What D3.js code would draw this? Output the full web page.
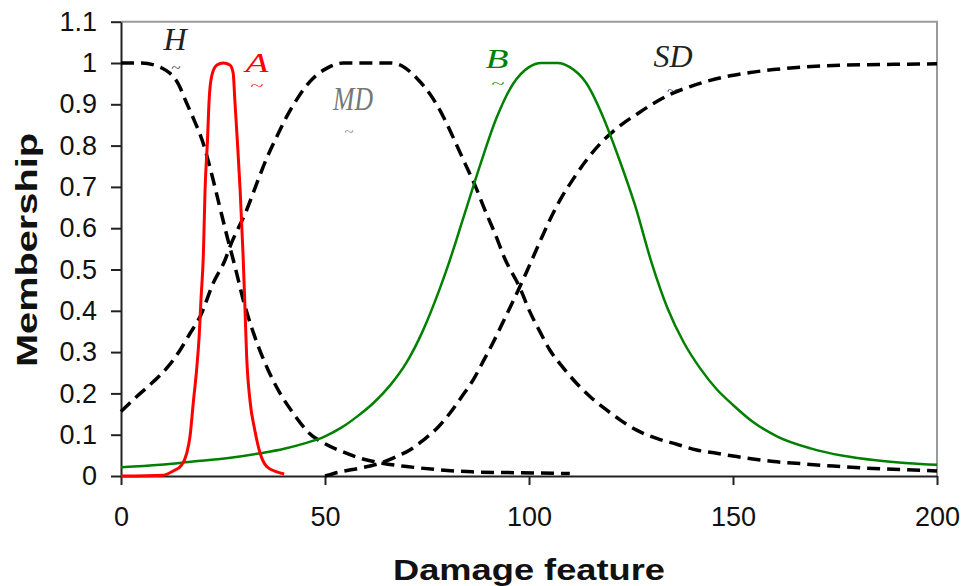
<!DOCTYPE html>
<html>
<head>
<meta charset="utf-8">
<script src="https://cdn.jsdelivr.net/npm/d3@7"></script>
<style>
  body { margin: 0; background: #fff; }
  .tick text { font-family: "Liberation Sans", Arial, sans-serif; }
</style>
</head>
<body>
<div id="membership-chart"></div>
<script>
// data: [damage feature, membership]
const hPoints = [[0,1],[5,1],[10,0.988],[12,0.975],[14,0.95],[16,0.905],[18,0.86],[20,0.81],[22,0.74],[24,0.66],[26,0.58],[28,0.505],[30,0.425],[32,0.36],[34,0.305],[36,0.258],[39,0.2],[42,0.155],[46,0.105],[50,0.078],[54,0.06],[58,0.045],[64,0.031],[70,0.023],[78,0.015],[86,0.01],[97,0.008],[110,0.006]];
const aPoints = [[0,0],[10.4,0.002],[12.8,0.012],[14.9,0.027],[16.1,0.055],[16.9,0.095],[17.7,0.176],[18.6,0.265],[19.2,0.345],[19.6,0.426],[20.2,0.54],[20.6,0.692],[21.2,0.814],[21.6,0.91],[22.2,0.967],[23.5,0.995],[25.1,1],[26.7,0.995],[27.5,0.975],[27.9,0.91],[28.5,0.814],[29.2,0.692],[29.9,0.54],[30.4,0.402],[30.8,0.289],[31.6,0.184],[32.8,0.111],[34.1,0.055],[35.7,0.023],[38.2,0.01],[40,0.005]];
const mdPoints = [[0,0.156],[3.8,0.192],[7.9,0.228],[11.2,0.261],[14.5,0.305],[16.9,0.345],[19.4,0.386],[22.6,0.467],[25.5,0.523],[26.7,0.555],[30.8,0.644],[33.3,0.709],[35.7,0.769],[38.2,0.822],[40.6,0.87],[43.5,0.918],[46.3,0.955],[50.4,0.987],[54.5,1],[66,1],[69.2,0.991],[72.5,0.963],[76.2,0.918],[79,0.87],[81.5,0.818],[84.3,0.757],[86.8,0.703],[89.2,0.644],[91.7,0.586],[94,0.528],[97.8,0.455],[100.2,0.398],[102.7,0.349],[105.1,0.305],[108.4,0.262],[111.7,0.224],[115,0.192],[119,0.16],[122.3,0.136],[126.4,0.111],[131.3,0.091],[136.2,0.077],[141.1,0.063],[146,0.055],[150.9,0.047],[155.8,0.04],[160,0.035],[166.4,0.03],[174.6,0.024],[182.8,0.019],[190.9,0.016],[200,0.012]];
const bPoints = [[0,0.021],[9.6,0.027],[17.7,0.035],[25.9,0.043],[34.1,0.055],[40,0.066],[45,0.079],[50,0.096],[54,0.117],[58,0.145],[62,0.178],[66,0.22],[70,0.275],[74,0.352],[78,0.45],[80,0.505],[84,0.628],[88,0.752],[92,0.866],[96,0.948],[100,0.99],[103,1],[107,1],[110,0.99],[114,0.952],[118,0.873],[122,0.77],[126,0.655],[130,0.518],[134,0.405],[138,0.322],[142,0.26],[146,0.21],[150,0.172],[155,0.13],[161,0.095],[169,0.067],[177,0.049],[185,0.038],[193,0.031],[200,0.027]];
const sdPoints = [[50,0],[53.7,0.01],[58.6,0.019],[63.5,0.031],[68.4,0.051],[70.8,0.063],[74.1,0.087],[77.4,0.115],[80.6,0.152],[83.5,0.192],[86.4,0.234],[88.8,0.278],[91.3,0.325],[93.7,0.374],[96.6,0.434],[99.4,0.494],[102.7,0.568],[105.1,0.62],[107.6,0.668],[110.9,0.72],[114.1,0.765],[117.4,0.804],[120.7,0.835],[123.1,0.854],[126.4,0.876],[130.5,0.902],[134.6,0.924],[139.5,0.943],[144.4,0.958],[149.3,0.969],[154.2,0.977],[159.9,0.984],[166.4,0.99],[174.6,0.994],[182.8,0.996],[190.9,0.997],[200,0.998]];

const xTicks = [0, 50, 100, 150, 200];
const yTicks = [0, 0.1, 0.2, 0.3, 0.4, 0.5, 0.6, 0.7, 0.8, 0.9, 1, 1.1];
const yTickLabels = ["0", "0.1", "0.2", "0.3", "0.4", "0.5", "0.6", "0.7", "0.8", "0.9", "1", "1.1"];

// Set the dimensions and margins of the graph
const margin = { top: 21.7, right: 30, bottom: 110, left: 121 };
const width = 937 - margin.left;
const height = 476 - margin.top;

const svg = d3
  .select("#membership-chart")
  .append("svg")
  .attr("width", 967)
  .attr("height", 586);

const g = svg.append("g").attr("transform", `translate(${margin.left},${margin.top})`);

// scales
const x = d3.scaleLinear().domain([0, 200]).range([0, width]);
const y = d3.scaleLinear().domain([0, 1.1]).range([height, 0]);

// plot frame (top and right in grey)
g.append("path")
  .attr("d", `M0,${y(1.1)}H${x(200)}V${y(0)}`)
  .attr("fill", "none")
  .attr("stroke", "#9a9a9a")
  .attr("stroke-width", 2);

// Add X axis
const xAxis = g
  .append("g")
  .attr("transform", `translate(0, ${height})`)
  .call(d3.axisBottom(x).tickValues(xTicks).tickSize(9).tickSizeOuter(0).tickPadding(22));

// Add Y axis
const yAxis = g
  .append("g")
  .call(
    d3.axisLeft(y)
      .tickValues(yTicks)
      .tickSize(10)
      .tickSizeOuter(0)
      .tickPadding(14)
      .tickFormat((d, i) => yTickLabels[i])
  );

[xAxis, yAxis].forEach((ax) => {
  ax.select(".domain").attr("stroke", "#222").attr("stroke-width", 2);
  ax.selectAll(".tick line").attr("stroke", "#222").attr("stroke-width", 2);
  ax.selectAll(".tick text").style("font-size", "27px").attr("fill", "#111");
});

// lines
const line = d3
  .line()
  .x((d) => x(d[0]))
  .y((d) => y(d[1]))
  .curve(d3.curveMonotoneX);

const series = [
  { pts: hPoints, color: "#000", w: 3.5, dash: "13,7" },
  { pts: mdPoints, color: "#000", w: 3.5, dash: "13,7" },
  { pts: sdPoints, color: "#000", w: 3.5, dash: "13,7" },
  { pts: bPoints, color: "#008000", w: 2.5, dash: null },
  { pts: aPoints, color: "#ff0000", w: 3, dash: null },
];

series.forEach((s) => {
  g.append("path")
    .datum(s.pts)
    .attr("d", line)
    .attr("fill", "none")
    .attr("stroke", s.color)
    .attr("stroke-width", s.w)
    .attr("stroke-dasharray", s.dash);
});

// curve labels with a tilde underneath
const labels = [
  { t: "H", x: 175, y: 50, size: 32, color: "#222", tx: 176, ty: 72, ts: 12, tl: 9 },
  { t: "A", x: 257, y: 72, size: 27, color: "#ff0000", tx: 257, ty: 90, ts: 13, tl: 13, len: 23 },
  { t: "MD", x: 353, y: 110, size: 33, color: "#777", tx: 349, ty: 136, ts: 12, tl: 9, len: 40 },
  { t: "B", x: 497, y: 68, size: 27, color: "#008000", tx: 498, ty: 88, ts: 13, tl: 13, len: 23 },
  { t: "SD", x: 673, y: 67, size: 32, color: "#222", tx: 672, ty: 95, ts: 12, tl: 10 },
];

labels.forEach((l) => {
  const txt = svg.append("text")
    .attr("x", l.x)
    .attr("y", l.y)
    .attr("text-anchor", "middle")
    .style("font-family", "'Liberation Serif', 'Times New Roman', serif")
    .style("font-style", "italic")
    .style("font-size", l.size + "px")
    .attr("fill", l.color)
    .text(l.t);
  if (l.len) txt.attr("textLength", l.len).attr("lengthAdjust", "spacingAndGlyphs");
  svg.append("text")
    .attr("x", l.tx)
    .attr("y", l.ty)
    .attr("text-anchor", "middle")
    .attr("textLength", l.tl)
    .attr("lengthAdjust", "spacingAndGlyphs")
    .style("font-family", "'Liberation Serif', serif")
    .style("font-size", l.ts + "px")
    .attr("fill", l.color)
    .text("~");
});

// Add axis labels
svg.append("text")
  .attr("transform", "rotate(-90)")
  .attr("x", -250)
  .attr("y", 37)
  .attr("text-anchor", "middle")
  .attr("textLength", 234)
  .attr("lengthAdjust", "spacingAndGlyphs")
  .style("font-family", "'Liberation Sans', Arial, sans-serif")
  .style("font-weight", "bold")
  .style("font-size", "30px")
  .attr("fill", "#111")
  .text("Membership");

svg.append("text")
  .attr("x", 529)
  .attr("y", 580)
  .attr("text-anchor", "middle")
  .attr("textLength", 272)
  .attr("lengthAdjust", "spacingAndGlyphs")
  .style("font-family", "'Liberation Sans', Arial, sans-serif")
  .style("font-weight", "bold")
  .style("font-size", "30px")
  .attr("fill", "#111")
  .text("Damage feature");
</script>
</body>
</html>
